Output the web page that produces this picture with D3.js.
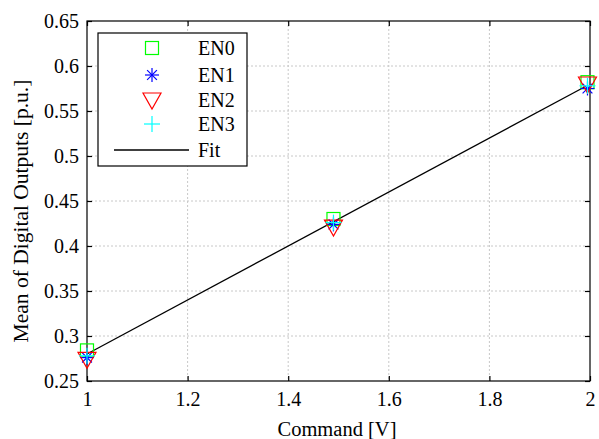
<!DOCTYPE html>
<html>
<head>
<meta charset="utf-8">
<script src="https://cdn.jsdelivr.net/npm/d3@7"></script>
<style>
  body { margin: 0; background: #fff; }
  svg text { font-family: "Liberation Serif", "Times New Roman", serif; }
</style>
</head>
<body>
<div id="vis"></div>
<script>
const FRAME_WIDTH = 599;
const FRAME_HEIGHT = 439;
const MARGINS = {left: 87, right: 9, top: 21, bottom: 58};
const VIS_WIDTH = FRAME_WIDTH - MARGINS.left - MARGINS.right;
const VIS_HEIGHT = FRAME_HEIGHT - MARGINS.top - MARGINS.bottom;
const FONT = "Liberation Serif";

// data
const commands = [1.0, 1.49, 1.995];
const en0 = [0.284, 0.430, 0.582];
const en1 = [0.276, 0.424, 0.575];
const en2 = [0.274, 0.421, 0.580];
const en3 = [0.278, 0.426, 0.578];
const fitX = [1.0, 1.99];
const fitY = [0.280, 0.577];
const xTicks = [1, 1.2, 1.4, 1.6, 1.8, 2];
const yTicks = [0.25, 0.3, 0.35, 0.4, 0.45, 0.5, 0.55, 0.6, 0.65];
const legendNames = ["EN0", "EN1", "EN2", "EN3", "Fit"];

const X_SCALE = d3.scaleLinear().domain([1, 2]).range([0, VIS_WIDTH]);
const Y_SCALE = d3.scaleLinear().domain([0.25, 0.65]).range([VIS_HEIGHT, 0]);

const SVG = d3.select("#vis").append("svg")
    .attr("width", FRAME_WIDTH)
    .attr("height", FRAME_HEIGHT)
    .attr("font-family", FONT);

const G = SVG.append("g")
    .attr("transform", "translate(" + MARGINS.left + "," + MARGINS.top + ")");

// grid lines
G.selectAll(".gx").data(xTicks.slice(1, -1)).enter().append("line")
    .attr("x1", d => X_SCALE(d)).attr("x2", d => X_SCALE(d))
    .attr("y1", 0).attr("y2", VIS_HEIGHT)
    .attr("stroke", "#c8c8c8").attr("stroke-dasharray", "2,2");
G.selectAll(".gy").data(yTicks.slice(1, -1)).enter().append("line")
    .attr("y1", d => Y_SCALE(d)).attr("y2", d => Y_SCALE(d))
    .attr("x1", 0).attr("x2", VIS_WIDTH)
    .attr("stroke", "#c8c8c8").attr("stroke-dasharray", "2,2");

// axes, ticks inward on all four sides
function styleAxis(g) {
  g.attr("font-family", FONT).attr("font-size", 20);
  g.select(".domain").remove();
  g.selectAll(".tick line").attr("stroke", "#000").attr("stroke-width", 1.2);
  g.selectAll("text").attr("fill", "#000");
}
G.append("g").attr("transform", "translate(0," + VIS_HEIGHT + ")")
  .call(d3.axisBottom(X_SCALE).tickValues(xTicks).tickSize(-5).tickPadding(11).tickFormat(d3.format("")))
  .call(styleAxis);
G.append("g")
  .call(d3.axisTop(X_SCALE).tickValues(xTicks).tickSize(-5).tickFormat(""))
  .call(styleAxis);
G.append("g")
  .call(d3.axisLeft(Y_SCALE).tickValues(yTicks).tickSize(-5).tickPadding(8).tickFormat(d3.format("")))
  .call(styleAxis);
G.append("g").attr("transform", "translate(" + VIS_WIDTH + ",0)")
  .call(d3.axisRight(Y_SCALE).tickValues(yTicks).tickSize(-5).tickFormat(""))
  .call(styleAxis);

G.append("rect").attr("width", VIS_WIDTH).attr("height", VIS_HEIGHT)
  .attr("fill", "none").attr("stroke", "#000").attr("stroke-width", 1.2);

// fit line
G.append("path")
  .datum(fitX.map((x, i) => [x, fitY[i]]))
  .attr("d", d3.line().x(d => X_SCALE(d[0])).y(d => Y_SCALE(d[1])))
  .attr("fill", "none").attr("stroke", "#000").attr("stroke-width", 1.3);

// marker drawers
function square(sel, c) {
  sel.append("rect").attr("x", -6.5).attr("y", -6.5).attr("width", 13).attr("height", 13)
    .attr("fill", "none").attr("stroke", c).attr("stroke-width", 1.2);
}
function star(sel, c) {
  const r = 7;
  const p = [[-r, 0, r, 0], [0, -r, 0, r], [-r * 0.7, -r * 0.7, r * 0.7, r * 0.7], [-r * 0.7, r * 0.7, r * 0.7, -r * 0.7]];
  p.forEach(q => sel.append("line").attr("x1", q[0]).attr("y1", q[1]).attr("x2", q[2]).attr("y2", q[3])
    .attr("stroke", c).attr("stroke-width", 1.2));
}
function triangle(sel, c) {
  sel.append("path").attr("d", "M-9,-7L9,-7L0,9Z")
    .attr("fill", "none").attr("stroke", c).attr("stroke-width", 1.2);
}
function plus(sel, c) {
  sel.append("line").attr("x1", -8).attr("x2", 8).attr("stroke", c).attr("stroke-width", 1.2);
  sel.append("line").attr("y1", -8).attr("y2", 8).attr("stroke", c).attr("stroke-width", 1.2);
}

const series = [
  {vals: en0, draw: square, color: "#00ff00"},
  {vals: en1, draw: star, color: "#0000ff"},
  {vals: en2, draw: triangle, color: "#ff0000"},
  {vals: en3, draw: plus, color: "#00ffff"}
];

series.forEach(s => {
  G.selectAll(null).data(commands.map((x, i) => [x, s.vals[i]])).enter().append("g")
    .attr("transform", d => "translate(" + X_SCALE(d[0]) + "," + Y_SCALE(d[1]) + ")")
    .each(function() { s.draw(d3.select(this), s.color); });
});

// legend
const LEG = SVG.append("g").attr("transform", "translate(98,33)");
LEG.append("rect").attr("width", 149).attr("height", 133)
  .attr("fill", "#fff").attr("stroke", "#000").attr("stroke-width", 1.2);
const rowY = [15, 42, 67, 91, 117];
series.forEach((s, i) => {
  const g = LEG.append("g").attr("transform", "translate(54," + rowY[i] + ")");
  s.draw(g, s.color);
});
LEG.append("line").attr("x1", 16).attr("x2", 91).attr("y1", rowY[4]).attr("y2", rowY[4])
  .attr("stroke", "#000").attr("stroke-width", 1.3);
LEG.selectAll(".lt").data(legendNames).enter().append("text")
  .attr("x", 100).attr("y", (d, i) => rowY[i] + 7)
  .attr("font-size", 20).text(d => d);

// axis labels
SVG.append("text")
  .attr("x", 337).attr("y", 436)
  .attr("text-anchor", "middle").attr("font-size", 20.5).text("Command [V]");
SVG.append("text")
  .attr("transform", "translate(28,211) rotate(-90)")
  .attr("text-anchor", "middle").attr("font-size", 21.5).text("Mean of Digital Outputs [p.u.]");
</script>
</body>
</html>
